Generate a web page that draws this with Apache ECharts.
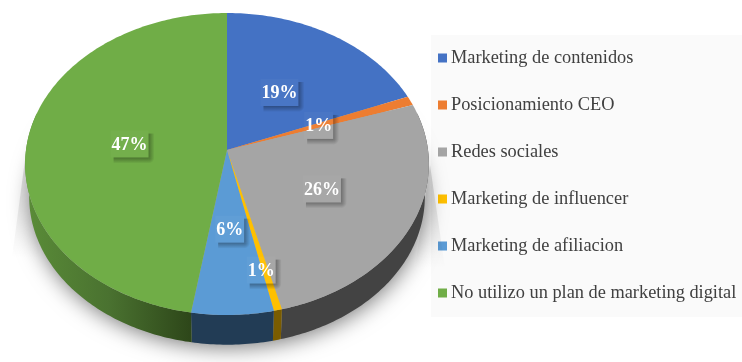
<!DOCTYPE html>
<html><head><meta charset="utf-8">
<script src="https://cdn.jsdelivr.net/npm/echarts@6/dist/echarts.min.js"></script>
<style>html,body{margin:0;padding:0;background:#fff}#c{width:742px;height:362px}</style>
</head><body><div id="c"></div>
<script>
const categories = ['Marketing de contenidos','Posicionamiento CEO','Redes sociales','Marketing de influencer','Marketing de afiliacion','No utilizo un plan de marketing digital'];
const shares = [19.0, 1.0, 26.0, 0.6, 6.0, 47.4];

const colors = ['#4472C4','#ED7D31','#A5A5A5','#FFC000','#5B9BD5','#70AD47'];
const wallColors = ['#263f6e','#84461b','#434343','#7a5c00','#223c55',null];
const labelReach = [0.5,0.5,0.515,0.75,0.48,0.49];
const labelNudgeX = [0,0,0,-4,0,0];
const geo = {cx:227, cy:150, a:201, b:149.7, k:0.0927, lowerScale:0.98, drop:33};

function upperPoint(t){
  const u=Math.sin(t), v=Math.cos(t), w=1+geo.k*v;
  return [geo.cx+geo.a*u/w, geo.cy-geo.b*v/w];
}
function lowerPoint(t){
  const p=upperPoint(t);
  return [geo.cx+(p[0]-geo.cx)*geo.lowerScale, geo.cy+(p[1]-geo.cy)*geo.lowerScale+geo.drop];
}
function arc(fn,t0,t1){
  const n=Math.max(2,Math.ceil(Math.abs(t1-t0)/0.015)), out=[];
  for(let i=0;i<=n;i++) out.push(fn(t0+(t1-t0)*i/n));
  return out;
}
const total = shares.reduce((s,x)=>s+x,0);
let running = 0;
const ranges = shares.map(x=>{const r=[running,running+x,x];running+=x;return r;});

function wedgeParts(){
  const G=echarts.graphic;
  const fade=()=>new G.LinearGradient(0,0,0,1,[{offset:0,color:'rgba(0,0,0,0.15)'},{offset:1,color:'rgba(0,0,0,0)'}]);
  return [
    {type:'polygon',z2:0,shape:{points:[[25,160],[12,258],[40,258]]},style:{fill:fade()}},
    {type:'polygon',z2:0,shape:{points:[[430,165],[445,268],[415,268]]},style:{fill:fade()}}
  ];
}
function labelParts(text,x,y){
  const G=echarts.graphic, w=20+9*(text.length-1), h=27, l=x-w/2, t=y-h/2, s=6;
  const dark='rgba(0,0,0,0.33)', clear='rgba(0,0,0,0)';
  return [
    {type:'rect',z2:3,shape:{x:l,y:t,width:w,height:h},style:{fill:'rgba(255,255,255,0.03)'}},
    {type:'rect',z2:3,shape:{x:l+w,y:t+3,width:s,height:h-3},style:{
      fill:new G.LinearGradient(0,0,1,0,[{offset:0,color:dark},{offset:1,color:clear}])}},
    {type:'rect',z2:3,shape:{x:l+3,y:t+h,width:w-3,height:s},style:{
      fill:new G.LinearGradient(0,0,0,1,[{offset:0,color:dark},{offset:1,color:clear}])}},
    {type:'rect',z2:3,shape:{x:l+w,y:t+h,width:s,height:s},style:{
      fill:new G.RadialGradient(0,0,1,[{offset:0,color:dark},{offset:1,color:clear}])}},
    {type:'text',z2:4,style:{x:x,y:y+1,text:text,align:'center',verticalAlign:'middle',
      font:'bold 18px "Liberation Serif"',fill:'#fff'}}
  ];
}
function sliceItem(i){
  return function(params,api){
    const t0=api.value(0)/total*2*Math.PI, t1=api.value(1)/total*2*Math.PI, val=api.value(2);
    const kids= i===0 ? wedgeParts() : [];
    const wA=Math.max(t0,Math.PI*0.42), wB=Math.min(t1,Math.PI*1.58);
    if(wB>wA){
      const pts=arc(upperPoint,wA,wB).concat(arc(lowerPoint,wB,wA));
      const fill = wallColors[i] || new echarts.graphic.LinearGradient(0,0,1,0,[
        {offset:0,color:'#5a8c38'},{offset:0.5,color:'#4a7230'},{offset:1,color:'#2d4619'}]);
      kids.push({type:'polygon',z2:1,shape:{points:pts},style:{fill:fill}});
    }
    kids.push({type:'polygon',z2:2,shape:{points:[[geo.cx,geo.cy]].concat(arc(upperPoint,t0,t1))},
      style:{fill:colors[i]}});
    const m=(t0+t1)/2, p=upperPoint(m), r=labelReach[i];
    return {type:'group',children:kids.concat(labelParts(Math.round(val)+'%',
      geo.cx+(p[0]-geo.cx)*r+labelNudgeX[i], geo.cy+(p[1]-geo.cy)*r))};
  };
}

const series = categories.map((name,i)=>({type:'custom',name:name,coordinateSystem:'none',z:2,
    itemStyle:{color:colors[i]},data:[ranges[i]],renderItem:sliceItem(i),animation:false}));

const chart = echarts.init(document.getElementById('c'),null,{renderer:'canvas'});
chart.setOption({
  animation:false,
  backgroundColor:'#fff',
  graphic:{elements:[{type:'ellipse',z:1.5,silent:true,
    shape:{cx:228,cy:198,rx:196,ry:146},
    style:{fill:'#aaaaaa',shadowColor:'rgba(0,0,0,0.55)',shadowBlur:22,shadowOffsetY:3}}]},
  legend:{
    data:categories, orient:'vertical', left:431, top:35, z:1,
    backgroundColor:'#fafafa', padding:[14,7,15,7],
    icon:'rect', itemWidth:9, itemHeight:9, itemGap:29,
    textStyle:{fontFamily:'Liberation Serif',fontSize:18.35,lineHeight:18,color:'#404040',padding:[0,0,0,-1]}
  },
  series:series
});
</script></body></html>
